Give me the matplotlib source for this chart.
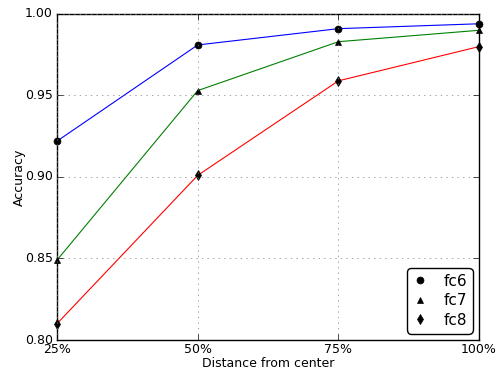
import matplotlib
matplotlib.use("Agg")
import matplotlib.pyplot as plt

plt.style.use("classic")

# Data
distance = [25, 50, 75, 100]
tick_labels = ["25%", "50%", "75%", "100%"]
fc6 = [0.922, 0.981, 0.991, 0.994]
fc7 = [0.849, 0.953, 0.983, 0.990]
fc8 = [0.810, 0.901, 0.959, 0.980]

fig = plt.figure(figsize=(4.97, 3.74), dpi=100)
ax = fig.add_axes([0.1147, 0.0909, 0.8493, 0.8717])

# lines
ax.plot(distance, fc6, color="blue", linewidth=0.8)
ax.plot(distance, fc7, color="green", linewidth=0.8)
ax.plot(distance, fc8, color="red", linewidth=0.8)

# markers (legend entries)
ax.plot(distance, fc6, "o", color="black", markersize=5, label="fc6", clip_on=False)
ax.plot(distance, fc7, "^", color="black", markersize=5, label="fc7", clip_on=False)
ax.plot(distance, fc8, "d", color="black", markersize=5, label="fc8", clip_on=False)

ax.set_xlim(25, 100)
ax.set_ylim(0.80, 1.00)
ax.set_xticks(distance)
ax.set_xticklabels(tick_labels)
ax.set_yticks([0.80, 0.85, 0.90, 0.95, 1.00])
ax.tick_params(labelsize=9)
ax.tick_params(axis="x", pad=2)
ax.tick_params(axis="y", pad=3)
ax.grid(True, color="gray", linestyle=":")

ax.set_xlabel("Distance from center", fontsize=9, labelpad=1)
ax.set_ylabel("Accuracy", fontsize=9, labelpad=-1)

leg = ax.legend(loc="lower right", numpoints=1, fontsize=11, fancybox=True,
                handlelength=1.0, handletextpad=1.0, borderpad=0.2,
                borderaxespad=0.6, labelspacing=0.3)
leg.get_frame().set_boxstyle("round", pad=0.2, rounding_size=0.3)

plt.savefig("out.png", dpi=100)
plt.close()
